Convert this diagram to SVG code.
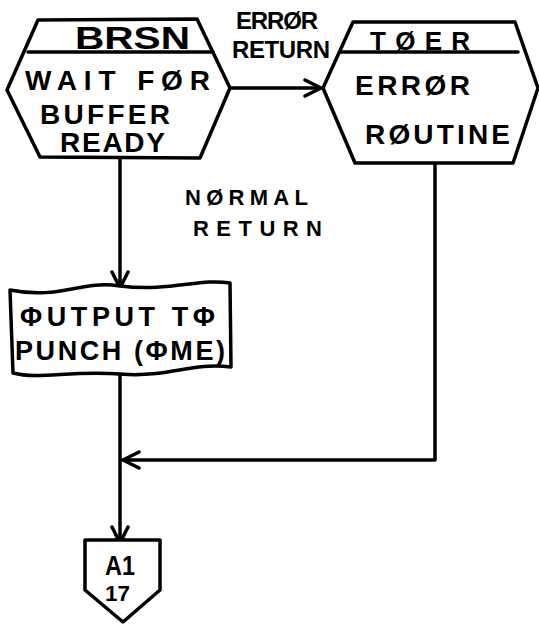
<svg xmlns="http://www.w3.org/2000/svg" width="539" height="624" viewBox="0 0 539 624">
<style>
.sh{fill:#fff;stroke:#000;stroke-width:3.5;stroke-linejoin:round;stroke-linecap:round}
.ln{fill:none;stroke:#000;stroke-width:3.5;stroke-linecap:round;stroke-linejoin:round}
.t{font-family:"Liberation Sans","DejaVu Sans",sans-serif;font-weight:bold;fill:#000}
</style>
<defs>
<marker id="ah" viewBox="0 0 20 20" refX="18" refY="10" markerWidth="20" markerHeight="20" markerUnits="userSpaceOnUse" orient="auto">
<path d="M2,2 L18,10 L2,18" fill="none" stroke="#000" stroke-width="3.5" stroke-linecap="round" stroke-linejoin="round"/>
</marker>
</defs>
<rect width="539" height="624" fill="#fff"/>
<g id="connectors">
<path class="ln" d="M230,88 L321,88" marker-end="url(#ah)"/>
<path class="ln" d="M120,158 L120,288" marker-end="url(#ah)"/>
<path class="ln" d="M120,372 L120,543" marker-end="url(#ah)"/>
<path class="ln" d="M435,162 L435,460 L123,460" marker-end="url(#ah)"/>
</g>
<g id="brsn">
<path class="sh" d="M38,20 L197,19 L230,88 L200,158 L40,157 L7,90 Z"/>
<path class="ln" d="M28,52 L213,52"/>
<text class="t" x="75" y="49" font-size="32" textLength="115" lengthAdjust="spacingAndGlyphs">BRSN</text>
<text class="t" x="25" y="90" font-size="28" textLength="185" lengthAdjust="spacing">WAIT FØR</text>
<text class="t" x="40" y="124" font-size="28" textLength="130" lengthAdjust="spacing">BUFFER</text>
<text class="t" x="60" y="152" font-size="28" textLength="105" lengthAdjust="spacing">READY</text>
</g>
<g id="toer">
<path class="sh" d="M353,22 L515,22 L538,88 L513,163 L355,163 L323,88 Z"/>
<path class="ln" d="M340,52 L518,52"/>
<text class="t" x="370" y="50" font-size="26" textLength="100" lengthAdjust="spacing">TØER</text>
<text class="t" x="355" y="95" font-size="28" textLength="115" lengthAdjust="spacing">ERRØR</text>
<text class="t" x="365" y="144" font-size="28" textLength="145" lengthAdjust="spacing">RØUTINE</text>
</g>
<g id="output">
<path class="sh" d="M10,290 C60,300 80,280 120,286 C170,292 200,278 230,283 L231,367 C190,362 170,378 120,374 C70,370 40,380 13,373 Z"/>
<text class="t" x="20" y="326" font-size="27" textLength="195" lengthAdjust="spacing">ΦUTPUT TΦ</text>
<text class="t" x="15" y="360" font-size="27" textLength="210" lengthAdjust="spacing">PUNCH (ΦME)</text>
</g>
<g id="a1">
<path class="sh" d="M85,540 L160,540 L160,590 L123,622 L85,590 Z"/>
<text class="t" x="105" y="575" font-size="28" textLength="30" lengthAdjust="spacingAndGlyphs">A1</text>
<text class="t" x="105" y="601" font-size="22" textLength="25" lengthAdjust="spacingAndGlyphs">17</text>
</g>
<g id="labels">
<text class="t" x="236" y="29" font-size="24" textLength="82" lengthAdjust="spacing">ERRØR</text>
<text class="t" x="232" y="58" font-size="24" textLength="98" lengthAdjust="spacing">RETURN</text>
<text class="t" x="185" y="205" font-size="22" textLength="123" lengthAdjust="spacing">NØRMAL</text>
<text class="t" x="193" y="236" font-size="22" textLength="129" lengthAdjust="spacing">RETURN</text>
</g>
</svg>
